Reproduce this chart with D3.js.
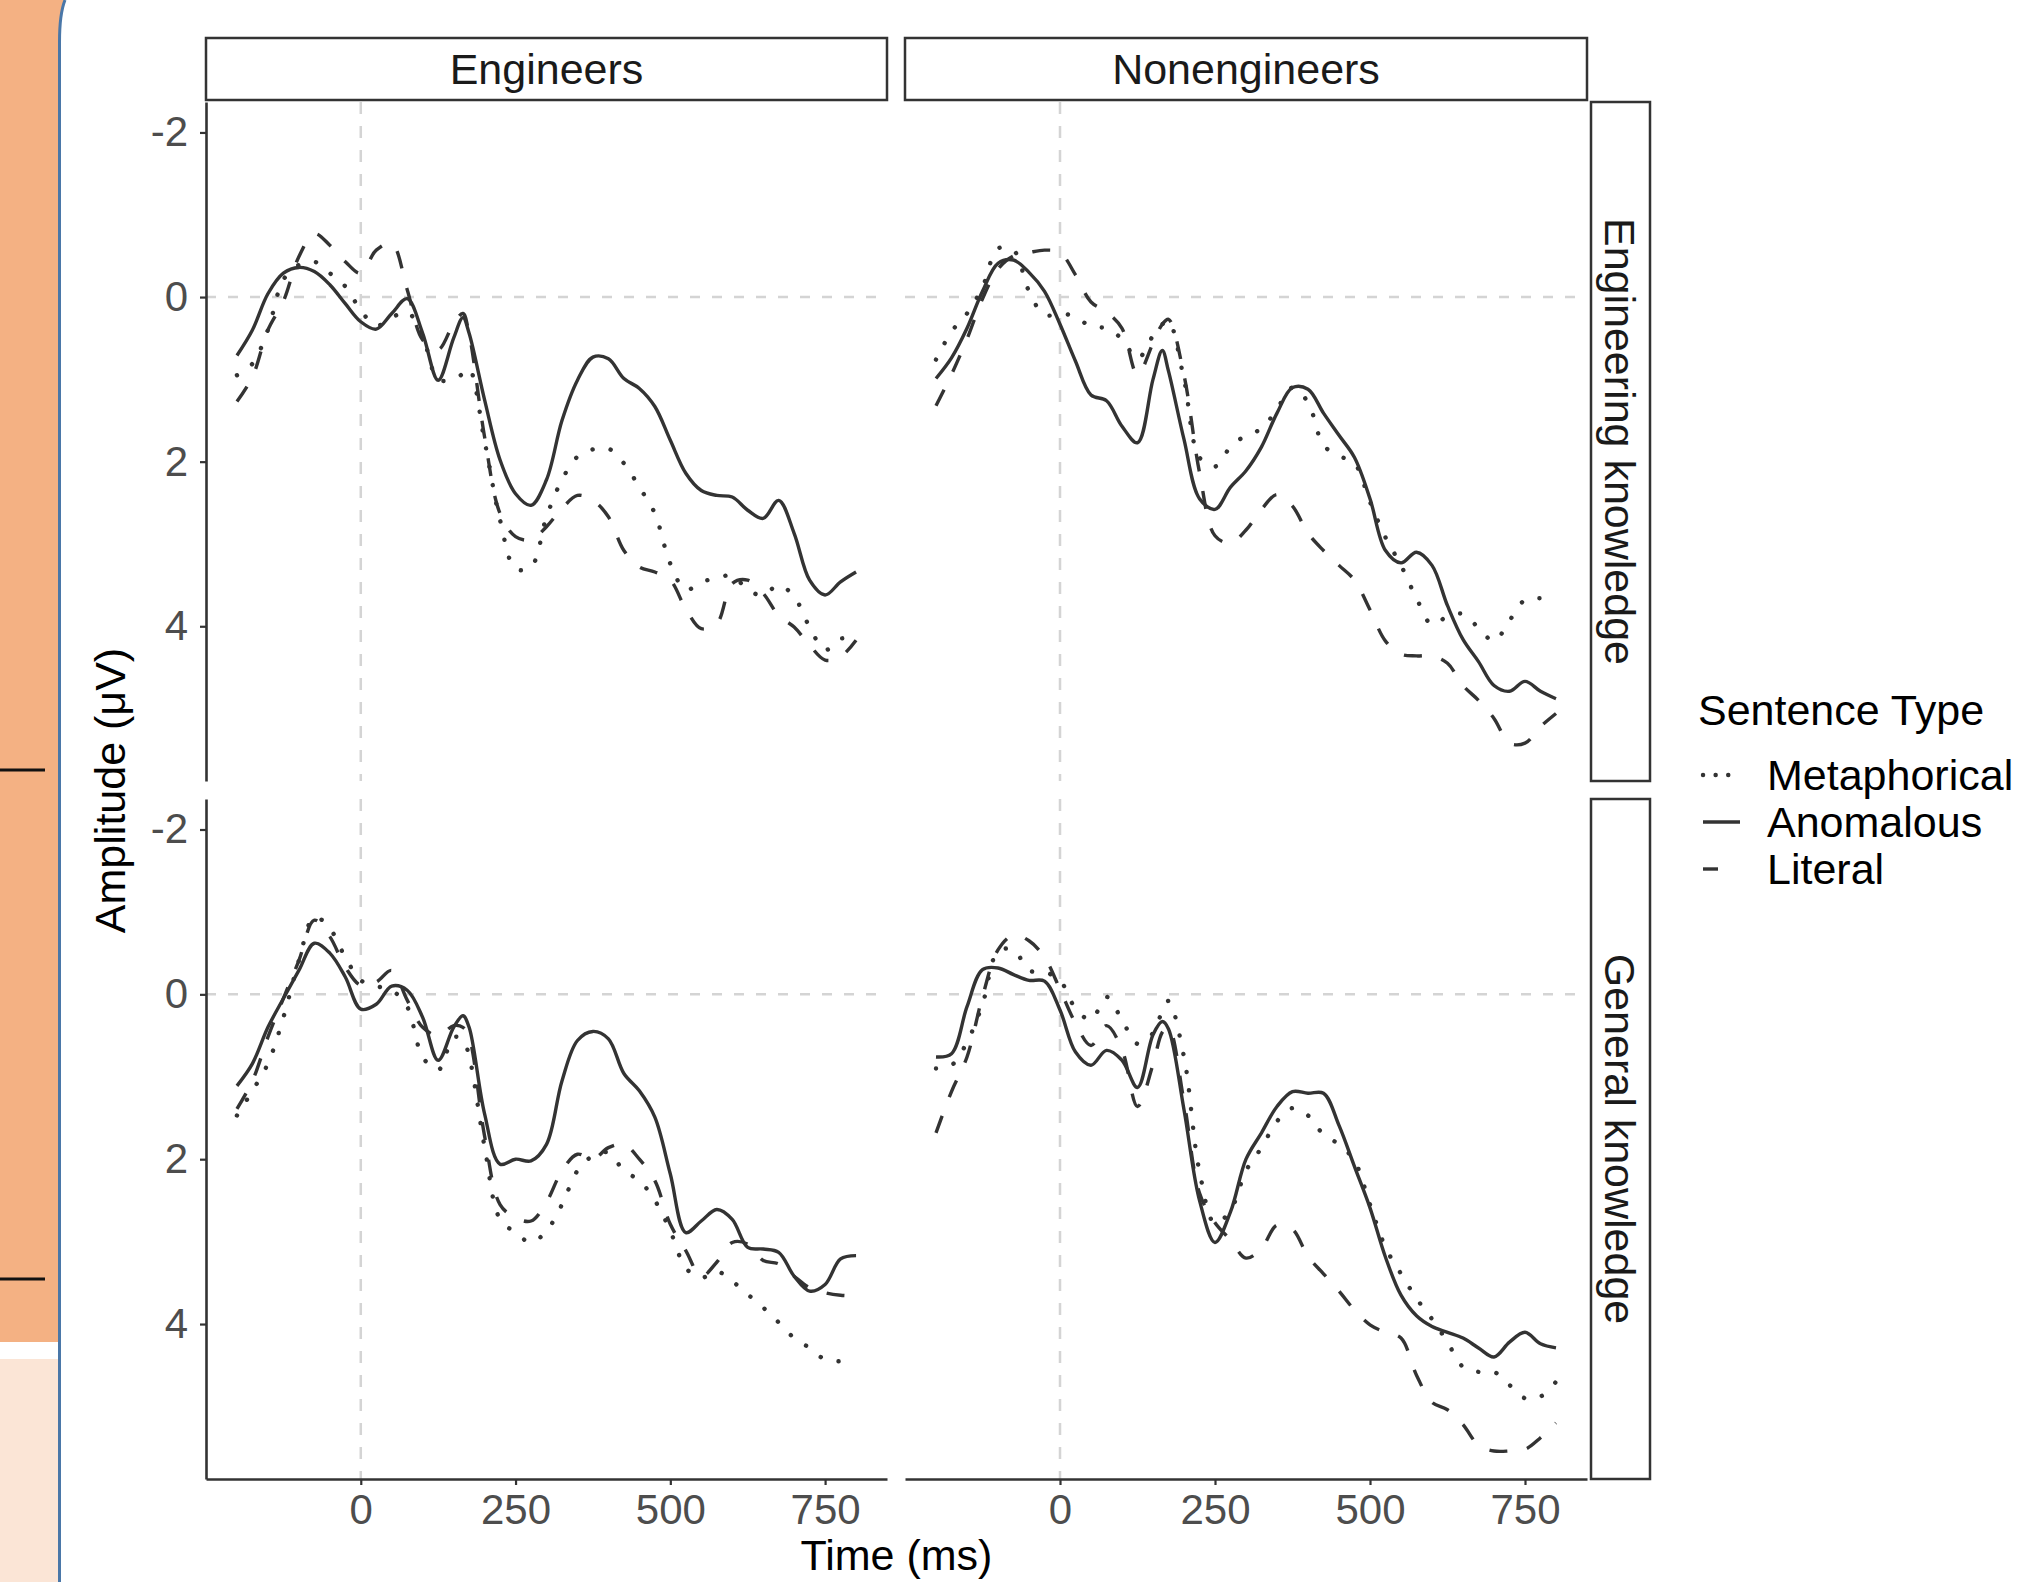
<!DOCTYPE html>
<html>
<head>
<meta charset="utf-8">
<script src="https://cdn.jsdelivr.net/npm/d3@7"></script>
<style>
  body { margin: 0; background: #fff; }
  svg { display: block; font-family: "Liberation Sans", Arial, Helvetica, sans-serif; }
</style>
</head>
<body>
<svg id="chart" width="2018" height="1582"></svg>
<script>
// ERP waveforms, facet grid: group (columns) x knowledge type (rows), 3 sentence types per panel

const times = [-200, -175, -150, -125, -100, -75, -50, -25, 0, 25, 50, 75, 100, 125, 150, 165, 175,
    200, 225, 250, 275, 300, 325, 350, 375, 400, 425, 450, 475, 500, 525, 550, 575, 600, 625, 650, 675, 700, 725, 750, 775, 800];

const groups = ["Engineers", "Nonengineers"];
const knowledgeTypes = ["Engineering knowledge", "General knowledge"];
const sentenceTypes = ["Metaphorical", "Anomalous", "Literal"];
const yTicks = [-2, 0, 2, 4];
const xTicks = [0, 250, 500, 750];

// Engineers / Engineering knowledge
const engEngMetaphorical = [0.95, 0.81, 0.40, -0.21, -0.39, -0.43, -0.29, -0.13, 0.16, 0.35, 0.25, 0.18, 0.48, 1.00, 1.00, 0.93, 0.87,
    1.75, 2.71, 3.30, 3.28, 2.67, 2.22, 1.94, 1.85, 1.84, 2.02, 2.31, 2.63, 3.24, 3.56, 3.46, 3.42, 3.38, 3.56, 3.62, 3.50, 3.64, 4.01, 4.29, 4.15, 4.17];
const engEngAnomalous = [0.71, 0.40, -0.04, -0.29, -0.36, -0.31, -0.15, 0.08, 0.30, 0.39, 0.20, 0.02, 0.44, 1.01, 0.50, 0.25, 0.44,
    1.25, 1.98, 2.39, 2.53, 2.22, 1.50, 1.01, 0.73, 0.75, 0.99, 1.11, 1.33, 1.74, 2.14, 2.35, 2.41, 2.43, 2.59, 2.69, 2.47, 2.87, 3.44, 3.62, 3.46, 3.34];
const engEngLiteral = [1.27, 0.97, 0.40, 0.05, -0.49, -0.77, -0.63, -0.43, -0.29, -0.57, -0.65, -0.09, 0.52, 0.64, 0.32, 0.20, 0.45,
    1.70, 2.63, 2.91, 2.95, 2.79, 2.57, 2.41, 2.47, 2.67, 3.08, 3.28, 3.34, 3.44, 3.79, 4.03, 3.97, 3.48, 3.44, 3.60, 3.87, 4.01, 4.23, 4.41, 4.37, 4.17];

// Nonengineers / Engineering knowledge
const nonEngMetaphorical = [0.76, 0.42, 0.20, -0.12, -0.59, -0.57, -0.07, 0.22, 0.20, 0.24, 0.36, 0.38, 0.51, 0.75, 0.47, 0.33, 0.29,
    1.00, 1.95, 2.06, 1.82, 1.68, 1.60, 1.36, 1.10, 1.28, 1.80, 1.93, 2.02, 2.49, 2.92, 3.26, 3.66, 3.98, 3.88, 3.85, 4.02, 4.18, 3.93, 3.68, 3.66, 3.66];
const nonEngAnomalous = [0.99, 0.74, 0.38, -0.07, -0.41, -0.45, -0.30, -0.07, 0.33, 0.78, 1.19, 1.26, 1.57, 1.77, 1.00, 0.65, 0.90,
    1.73, 2.45, 2.58, 2.31, 2.11, 1.82, 1.41, 1.10, 1.12, 1.41, 1.68, 1.95, 2.45, 3.08, 3.23, 3.10, 3.26, 3.75, 4.16, 4.43, 4.72, 4.79, 4.67, 4.79, 4.88];
const nonEngLiteral = [1.32, 0.94, 0.51, 0.02, -0.34, -0.50, -0.54, -0.57, -0.54, -0.27, 0.06, 0.18, 0.38, 0.94, 0.56, 0.33, 0.27,
    0.95, 2.13, 2.90, 2.99, 2.83, 2.58, 2.40, 2.54, 2.87, 3.08, 3.26, 3.44, 3.80, 4.18, 4.34, 4.36, 4.36, 4.45, 4.72, 4.90, 5.12, 5.42, 5.42, 5.22, 5.06];

// Engineers / General knowledge
const engGenMetaphorical = [1.47, 1.17, 0.84, 0.28, -0.41, -0.94, -0.80, -0.45, -0.17, -0.10, -0.05, 0.15, 0.76, 0.92, 0.52, 0.55, 0.75,
    1.85, 2.73, 2.89, 3.01, 2.87, 2.55, 2.14, 1.96, 1.92, 2.14, 2.26, 2.50, 2.87, 3.32, 3.44, 3.36, 3.48, 3.64, 3.80, 3.98, 4.17, 4.29, 4.43, 4.45, 4.39];
const engGenAnomalous = [1.11, 0.84, 0.40, 0.05, -0.29, -0.62, -0.50, -0.21, 0.18, 0.12, -0.10, -0.05, 0.28, 0.80, 0.40, 0.26, 0.40,
    1.45, 2.06, 2.00, 2.02, 1.82, 1.05, 0.56, 0.45, 0.54, 0.96, 1.17, 1.49, 2.18, 2.89, 2.75, 2.61, 2.73, 3.07, 3.09, 3.13, 3.42, 3.60, 3.52, 3.21, 3.17];
const engGenLiteral = [1.39, 1.05, 0.52, 0.05, -0.41, -0.90, -0.70, -0.33, -0.11, -0.15, -0.29, 0.07, 0.40, 0.50, 0.38, 0.40, 0.52,
    1.72, 2.55, 2.71, 2.75, 2.52, 2.14, 1.94, 2.00, 1.86, 1.82, 2.00, 2.26, 2.79, 3.11, 3.42, 3.25, 3.01, 3.03, 3.23, 3.27, 3.42, 3.56, 3.62, 3.65, 3.66];

// Nonengineers / General knowledge
const nonGenMetaphorical = [0.90, 0.86, 0.58, 0.12, -0.52, -0.54, -0.29, -0.27, -0.17, 0.17, 0.31, 0.03, 0.31, 0.60, 0.47, 0.20, 0.08,
    0.76, 2.15, 2.78, 2.62, 2.14, 1.86, 1.54, 1.38, 1.47, 1.70, 1.82, 2.02, 2.55, 3.07, 3.39, 3.69, 3.94, 4.22, 4.52, 4.58, 4.58, 4.74, 4.90, 4.88, 4.70];
const nonGenAnomalous = [0.76, 0.72, 0.15, -0.30, -0.32, -0.24, -0.17, -0.16, 0.19, 0.70, 0.86, 0.68, 0.80, 1.13, 0.49, 0.33, 0.42,
    1.40, 2.50, 3.01, 2.64, 2.00, 1.68, 1.36, 1.18, 1.20, 1.20, 1.59, 2.09, 2.59, 3.19, 3.65, 3.90, 4.03, 4.10, 4.17, 4.29, 4.40, 4.22, 4.10, 4.24, 4.29];
const nonGenLiteral = [1.68, 1.18, 0.76, 0.03, -0.54, -0.72, -0.65, -0.45, -0.06, 0.35, 0.62, 0.38, 0.67, 1.36, 0.85, 0.46, 0.40,
    1.30, 2.41, 2.77, 2.98, 3.20, 3.08, 2.80, 2.85, 3.18, 3.39, 3.60, 3.83, 4.01, 4.10, 4.17, 4.62, 4.95, 5.04, 5.22, 5.47, 5.54, 5.54, 5.52, 5.38, 5.20];

const panels = [
    {col: 0, row: 0, series: [engEngMetaphorical, engEngAnomalous, engEngLiteral]},
    {col: 1, row: 0, series: [nonEngMetaphorical, nonEngAnomalous, nonEngLiteral]},
    {col: 0, row: 1, series: [engGenMetaphorical, engGenAnomalous, engGenLiteral]},
    {col: 1, row: 1, series: [nonGenMetaphorical, nonGenAnomalous, nonGenLiteral]}
];

// layout (pixels)
const cols = [[206, 887], [905, 1587]];
const rows = [[102, 781], [799, 1479]];
const stripTop = [38, 100];
const stripRight = [1591, 1650];
const ink = "#333";
const tickGrey = "#4d4d4d";

// dotted lines use round caps on near-zero dashes so they read as dots
const lineStyle = {
    Metaphorical: {dash: "0.1,18.5", cap: "round", width: 4.4},
    Anomalous: {dash: null, cap: "butt", width: 3.4},
    Literal: {dash: "18,20", cap: "butt", width: 3.4}
};
const legendDash = {Metaphorical: "0.1,12.5", Anomalous: null, Literal: "15,23"};

const svg = d3.select("#chart");

// slide edge on the left of the screenshot
svg.append("path")
    .attr("d", "M0,0 H65 Q59.5,14 59.5,42 V1342 H0 Z")
    .attr("fill", "#F4B183");
svg.append("rect")
    .attr("x", 0).attr("y", 1359).attr("width", 59.5).attr("height", 223)
    .attr("fill", "#FBE5D6");
svg.append("path")
    .attr("d", "M65,0 Q59.5,14 59.5,42 V1582")
    .attr("fill", "none")
    .attr("stroke", "#4a77a8")
    .attr("stroke-width", 3);
[770, 1279].forEach(yy => {
    svg.append("line")
        .attr("x1", 0).attr("x2", 45).attr("y1", yy).attr("y2", yy)
        .attr("stroke", "#111").attr("stroke-width", 3);
});

const xScales = cols.map(r => d3.scaleLinear().domain([-250, 850]).range(r));
const yScales = rows.map(r => d3.scaleLinear().domain([-2.37, 5.88]).range(r));

// zero reference lines
cols.forEach((cr, c) => {
    rows.forEach((rr, r) => {
        const x = xScales[c], y = yScales[r];
        svg.append("line")
            .attr("x1", cr[0]).attr("x2", cr[1])
            .attr("y1", y(0)).attr("y2", y(0))
            .attr("stroke", "#d4d4d4").attr("stroke-width", 2.5)
            .attr("stroke-dasharray", "10,12");
        svg.append("line")
            .attr("x1", x(0)).attr("x2", x(0))
            .attr("y1", rr[0]).attr("y2", rr[1])
            .attr("stroke", "#d4d4d4").attr("stroke-width", 2.5)
            .attr("stroke-dasharray", "12,12");
    });
});

// waveforms
panels.forEach(p => {
    const x = xScales[p.col], y = yScales[p.row];
    const line = d3.line()
        .x(d => x(d.t))
        .y(d => y(d.v))
        .curve(d3.curveCatmullRom.alpha(0.5));
    p.series.forEach((vals, i) => {
        const st = lineStyle[sentenceTypes[i]];
        const pts = times.map((t, k) => ({t: t, v: vals[k]}));
        svg.append("path")
            .datum(pts)
            .attr("d", line)
            .attr("fill", "none")
            .attr("stroke", ink)
            .attr("stroke-width", st.width)
            .attr("stroke-linejoin", "round")
            .attr("stroke-linecap", st.cap)
            .attr("stroke-dasharray", st.dash);
    });
});

// axes
function styleAxis(g) {
    g.select(".domain").attr("stroke", ink).attr("stroke-width", 2.6);
    g.selectAll(".tick line").attr("stroke", ink).attr("stroke-width", 2.2);
    g.selectAll(".tick text")
        .attr("fill", tickGrey)
        .style("font-size", "42px")
        .style("font-family", "'Liberation Sans', Arial, sans-serif");
}

rows.forEach((rr, r) => {
    svg.append("g")
        .attr("transform", `translate(${cols[0][0]},0)`)
        .call(d3.axisLeft(yScales[r]).tickValues(yTicks).tickSize(6).tickSizeOuter(0).tickPadding(12).tickFormat(d => String(d)))
        .call(styleAxis);
});

cols.forEach((cr, c) => {
    svg.append("g")
        .attr("transform", `translate(0,${rows[1][1]})`)
        .call(d3.axisBottom(xScales[c]).tickValues(xTicks).tickSize(6).tickSizeOuter(0).tickPadding(9).tickFormat(d => String(d)))
        .call(styleAxis);
});

// strips
groups.forEach((name, c) => {
    const cr = cols[c];
    svg.append("rect")
        .attr("x", cr[0]).attr("y", stripTop[0])
        .attr("width", cr[1] - cr[0]).attr("height", stripTop[1] - stripTop[0])
        .attr("fill", "#fff").attr("stroke", ink).attr("stroke-width", 2.5);
    svg.append("text")
        .attr("x", (cr[0] + cr[1]) / 2)
        .attr("y", (stripTop[0] + stripTop[1]) / 2)
        .attr("dy", "0.35em")
        .attr("text-anchor", "middle")
        .style("font-size", "43px")
        .attr("fill", "#1a1a1a")
        .text(name);
});

knowledgeTypes.forEach((name, r) => {
    const rr = rows[r];
    svg.append("rect")
        .attr("x", stripRight[0]).attr("y", rr[0])
        .attr("width", stripRight[1] - stripRight[0]).attr("height", rr[1] - rr[0])
        .attr("fill", "#fff").attr("stroke", ink).attr("stroke-width", 2.5);
    const cx = (stripRight[0] + stripRight[1]) / 2, cy = (rr[0] + rr[1]) / 2;
    svg.append("text")
        .attr("transform", `translate(${cx},${cy}) rotate(90)`)
        .attr("dy", "0.35em")
        .attr("text-anchor", "middle")
        .style("font-size", "43px")
        .attr("fill", "#1a1a1a")
        .text(name);
});

// axis titles
svg.append("text")
    .attr("x", (cols[0][0] + cols[1][1]) / 2)
    .attr("y", 1570)
    .attr("text-anchor", "middle")
    .style("font-size", "43px")
    .text("Time (ms)");

svg.append("text")
    .attr("transform", `translate(125,${(rows[0][0] + rows[1][1]) / 2}) rotate(-90)`)
    .attr("text-anchor", "middle")
    .style("font-size", "43px")
    .text("Amplitude (\u03bcV)");

// legend
const legend = svg.append("g").attr("transform", "translate(1698,0)");
legend.append("text")
    .attr("x", 0).attr("y", 725)
    .style("font-size", "43px")
    .text("Sentence Type");

const legendY = [775, 822, 869];
sentenceTypes.forEach((type, i) => {
    const st = lineStyle[type];
    legend.append("line")
        .attr("x1", 5).attr("x2", 42)
        .attr("y1", legendY[i]).attr("y2", legendY[i])
        .attr("stroke", ink)
        .attr("stroke-width", st.width)
        .attr("stroke-linecap", st.cap)
        .attr("stroke-dasharray", legendDash[type]);
    legend.append("text")
        .attr("x", 69).attr("y", legendY[i])
        .attr("dy", "0.36em")
        .style("font-size", "43px")
        .text(type);
});
</script>
</body>
</html>
